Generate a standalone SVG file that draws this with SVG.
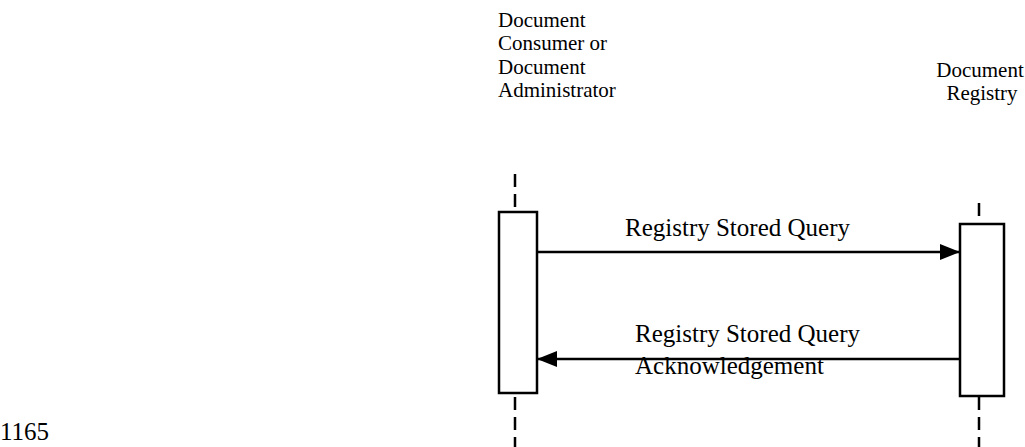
<svg xmlns="http://www.w3.org/2000/svg" width="1025" height="447" viewBox="0 0 1025 447">
<style>
text{font-family:"Liberation Serif","Times New Roman",serif;fill:#000;}
.hdr{font-size:21px;}
.lbl{font-size:25px;}
.life{stroke:#000;stroke-width:2.5;stroke-dasharray:13 7;fill:none;}
.act{fill:#fff;stroke:#000;stroke-width:2.5;}
.msg{stroke:#000;stroke-width:2.5;fill:none;}
</style>
<defs>
<marker id="ah" markerWidth="20" markerHeight="16" refX="19" refY="8" orient="auto" markerUnits="userSpaceOnUse">
<path d="M0,0 L20,8 L0,16 Z" fill="#000"/>
</marker>
</defs>
<rect width="1025" height="447" fill="#fff"/>
<g id="consumer">
<text class="hdr" x="498" y="27">Document</text>
<text class="hdr" x="498" y="50">Consumer or</text>
<text class="hdr" x="498" y="73.5">Document</text>
<text class="hdr" x="498" y="97">Administrator</text>
<line class="life" x1="515" y1="174" x2="515" y2="212"/>
<rect class="act" x="499" y="212" width="38" height="181"/>
<line class="life" x1="515" y1="397" x2="515" y2="447"/>
</g>
<g id="registry">
<text class="hdr" x="980" y="77" text-anchor="middle">Document</text>
<text class="hdr" x="982" y="100" text-anchor="middle">Registry</text>
<line class="life" x1="979" y1="203" x2="979" y2="224"/>
<rect class="act" x="960" y="224" width="44" height="172"/>
<line class="life" x1="979" y1="397" x2="979" y2="447"/>
</g>
<g id="connectors">
<line class="msg" x1="537" y1="252" x2="959" y2="252" marker-end="url(#ah)"/>
<line class="msg" x1="960" y1="359" x2="538" y2="359" marker-end="url(#ah)"/>
</g>
<g id="labels">
<text class="lbl" x="625" y="236">Registry Stored Query</text>
<text class="lbl" x="635" y="342">Registry Stored Query</text>
<text class="lbl" x="635" y="374">Acknowledgement</text>
</g>
<text class="lbl" x="0" y="440">1165</text>
</svg>
